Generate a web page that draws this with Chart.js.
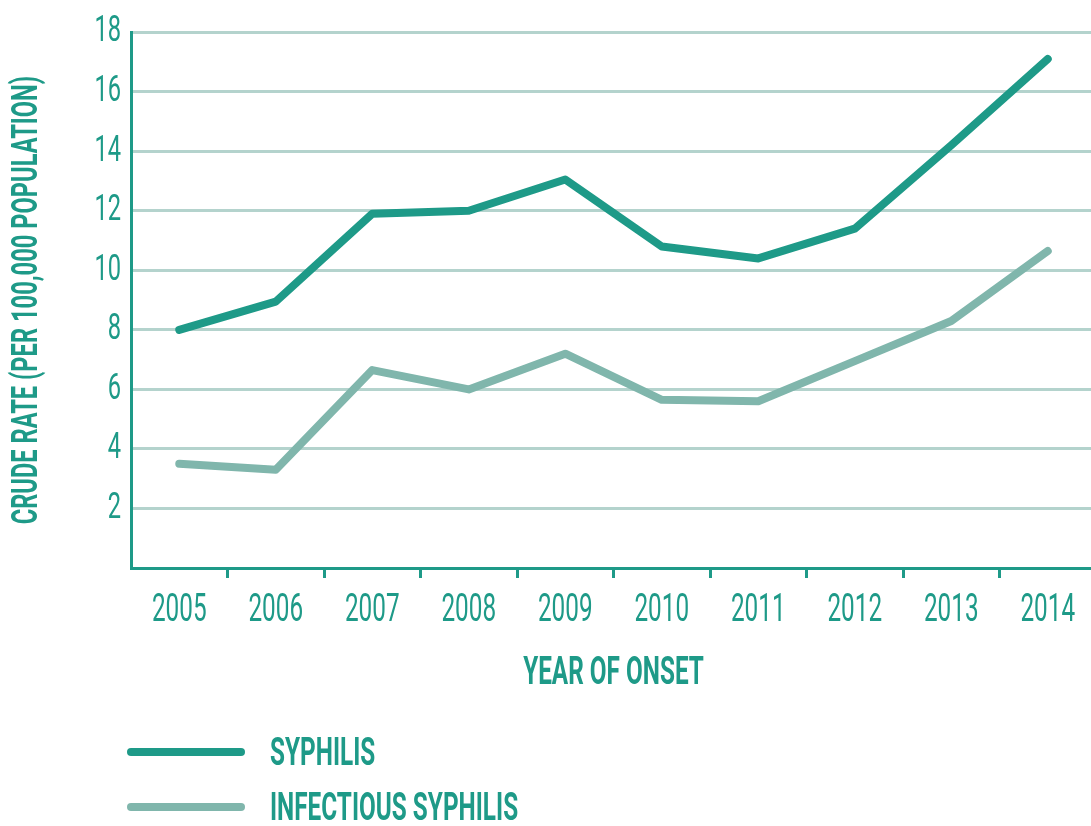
<!DOCTYPE html>
<html>
<head>
<meta charset="utf-8">
<script src="https://cdn.jsdelivr.net/npm/chart.js@4/dist/chart.umd.min.js"></script>
<style>
  html, body { margin: 0; padding: 0; background: #fff; overflow: hidden; }
  #wrap { position: relative; width: 1100px; height: 826px; }
</style>
</head>
<body>
<div id="wrap"><canvas id="c" width="1100" height="826"></canvas></div>
<script>
const years = ['2005','2006','2007','2008','2009','2010','2011','2012','2013','2014'];
const syphilis = [8.0, 8.95, 11.9, 12.0, 13.05, 10.8, 10.4, 11.4, 14.2, 17.1];
const infectious = [3.5, 3.3, 6.65, 6.0, 7.2, 5.65, 5.6, 6.95, 8.3, 10.65];
const seriesLabels = ['SYPHILIS', 'INFECTIOUS SYPHILIS'];
const yTitle = 'CRUDE RATE (PER 100,000 POPULATION)';
const xTitle = 'YEAR OF ONSET';

const TEAL = '#1e9a88';
const LIGHT = '#80b6ac';
const GRID = '#b4d3cd';
const FONT = "Roboto, 'DejaVu Sans Condensed', sans-serif";

// Condensed look: compress text horizontally (text stays real text)
const canvas = document.getElementById('c');
const ctx2d = canvas.getContext('2d');
const SX = 0.64;
const origFill = ctx2d.fillText.bind(ctx2d);
const origMeasure = ctx2d.measureText.bind(ctx2d);
ctx2d.fillText = function (t, x, y, mw) {
  this.save();
  this.translate(x, y);
  this.scale(SX, 1);
  origFill(t, 0, 0);
  this.restore();
};
ctx2d.measureText = function (t) {
  const m = origMeasure(t);
  return {
    width: m.width * SX,
    actualBoundingBoxAscent: m.actualBoundingBoxAscent,
    actualBoundingBoxDescent: m.actualBoundingBoxDescent,
    actualBoundingBoxLeft: m.actualBoundingBoxLeft * SX,
    actualBoundingBoxRight: m.actualBoundingBoxRight * SX
  };
};

const legendPlugin = {
  id: 'stackLegend',
  afterDraw(chart) {
    const ctx = chart.ctx;
    const ys = [752, 807];
    ctx.save();
    chart.data.datasets.forEach((ds, i) => {
      const y = ys[i];
      ctx.strokeStyle = ds.borderColor;
      ctx.lineWidth = 8;
      ctx.lineCap = 'round';
      ctx.beginPath();
      ctx.moveTo(131, y);
      ctx.lineTo(241, y);
      ctx.stroke();
      ctx.fillStyle = TEAL;
      ctx.font = "bold 38px " + FONT;
      ctx.textBaseline = 'middle';
      ctx.textAlign = 'left';
      ctx.fillText(ds.label, 270, y + 3);
    });
    ctx.restore();
  }
};

new Chart(canvas, {
  type: 'line',
  data: {
    labels: years,
    datasets: [
      { label: seriesLabels[0], data: syphilis, borderColor: TEAL, borderWidth: 8,
        pointRadius: 0, borderCapStyle: 'round', borderJoinStyle: 'round', tension: 0 },
      { label: seriesLabels[1], data: infectious, borderColor: LIGHT, borderWidth: 8,
        pointRadius: 0, borderCapStyle: 'round', borderJoinStyle: 'round', tension: 0 }
    ]
  },
  options: {
    responsive: false,
    animation: false,
    layout: { padding: { top: 28, right: 4, left: 0, bottom: 128 } },
    plugins: { legend: { display: false }, tooltip: { enabled: false } },
    scales: {
      x: {
        offset: true,
        grid: {
          offset: true,
          drawOnChartArea: false,
          drawTicks: true,
          tickLength: 10,
          tickWidth: 3,
          tickColor: c => (c.type === 'tick' && c.index > 0) ? TEAL : 'rgba(0,0,0,0)'
        },
        border: { display: true, color: TEAL, width: 3 },
        ticks: { color: TEAL, font: { family: FONT, size: 38, weight: 400 }, padding: 11, maxRotation: 0, autoSkip: false },
        title: { display: true, text: xTitle, color: TEAL, font: { family: FONT, size: 38, weight: 'bold' },
                 padding: { top: 0, bottom: 1 } },
        afterFit: s => { s.height = 130; }
      },
      y: {
        min: 0, max: 18,
        ticks: { stepSize: 2, color: TEAL, font: { family: FONT, size: 37, weight: 400 }, padding: 10,
                 callback: v => v === 0 ? '' : v },
        grid: {
          drawTicks: false,
          lineWidth: 3,
          color: c => c.tick && c.tick.value === 0 ? 'rgba(0,0,0,0)' : GRID
        },
        border: { display: true, color: TEAL, width: 3 },
        title: { display: true, text: yTitle, color: TEAL, font: { family: FONT, size: 37, weight: 'bold' },
                 padding: { top: 6, bottom: 0 } },
        afterFit: s => { s.width = 131; }
      }
    }
  },
  plugins: [legendPlugin]
});
</script>
</body>
</html>
